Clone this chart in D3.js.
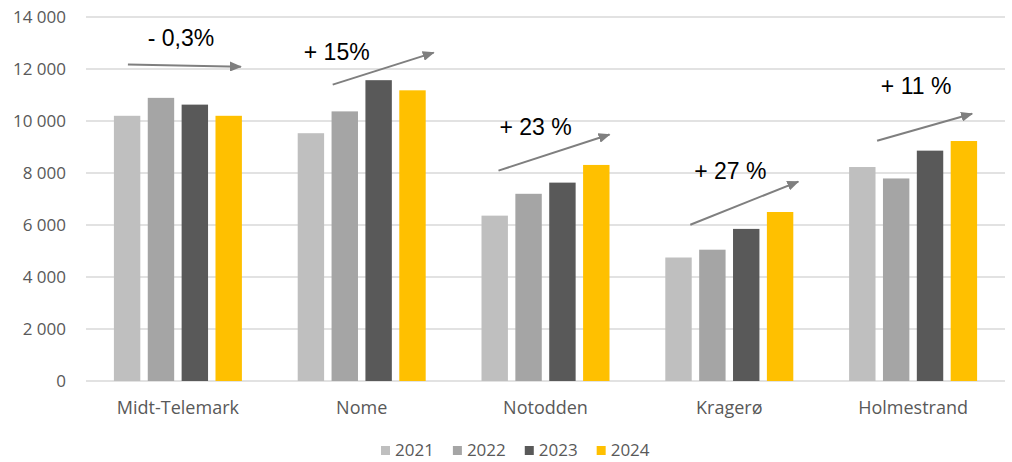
<!DOCTYPE html>
<html>
<head>
<meta charset="utf-8">
<script src="https://cdn.jsdelivr.net/npm/d3@7"></script>
<style>
  body { margin: 0; background: #fff; }
  text { font-family: "Open Sans", sans-serif; }
</style>
</head>
<body>
<svg id="chart" width="1012" height="462"></svg>
<script>
// data
const kommuner = ["Midt-Telemark", "Nome", "Notodden", "Kragerø", "Holmestrand"];
const years = ["2021", "2022", "2023", "2024"];
const v2021 = [10200, 9530, 6360, 4750, 8230];
const v2022 = [10890, 10370, 7200, 5050, 7790];
const v2023 = [10630, 11570, 7630, 5850, 8860];
const v2024 = [10200, 11180, 8310, 6500, 9230];
const yTicks = [0, 2000, 4000, 6000, 8000, 10000, 12000, 14000];
const colors = ["#bfbfbf", "#a5a5a5", "#595959", "#ffc000"];

// change annotations: label, arrow start/end (offset from group centre, value), label pos
const trendLabels = ["- 0,3%", "+ 15%", "+ 23 %", "+ 27 %", "+ 11 %"];
const arrowFrom = [[-50, 12170], [-29, 11400], [-47, 8090], [-39, 6010], [-36, 9240]];
const arrowTo = [[63, 12090], [72, 12630], [64, 9480], [69, 7670], [59, 10280]];
const labelAt = [[3, 12900], [-25, 12360], [-10, 9480], [1, 7780], [3, 11050]];

const series = [v2021, v2022, v2023, v2024];
const table = kommuner.map((k, i) => ({ k, vals: series.map(s => s[i]) }));

const svg = d3.select('#chart');
const margin = { left: 86, right: 7, top: 17, bottom: 81 };
const W = 1012, H = 462;

const x = d3.scaleBand().domain(kommuner).range([margin.left, W - margin.right]);
const x1 = d3.scaleBand().domain(years).range([0, 128]).paddingInner(0.22);
const y = d3.scaleLinear().domain([0, 14000]).range([H - margin.bottom, margin.top]);

// grid
svg.append('g').selectAll('line').data(yTicks).join('line')
  .attr('x1', margin.left).attr('x2', W - margin.right)
  .attr('y1', d => y(d)).attr('y2', d => y(d))
  .attr('stroke', '#d9d9d9').attr('stroke-width', 1.5);

// y labels
svg.append('g').selectAll('text').data(yTicks).join('text')
  .attr('x', 66).attr('y', d => y(d)).attr('dy', '0.35em')
  .attr('text-anchor', 'end').attr('fill', '#595959').attr('font-size', 17)
  .text(d => d3.format(',')(d).replace(/,/g, ' '));

// bars
const groups = svg.append('g').selectAll('g').data(table).join('g')
  .attr('transform', d => `translate(${x(d.k) + (x.bandwidth() - 128) / 2},0)`);
groups.selectAll('rect').data(d => d.vals.map((v, j) => ({ v, yr: years[j], j }))).join('rect')
  .attr('x', d => x1(d.yr)).attr('width', x1.bandwidth())
  .attr('y', d => y(d.v)).attr('height', d => y(0) - y(d.v))
  .attr('fill', d => colors[d.j]);

// category labels
svg.append('g').selectAll('text').data(kommuner).join('text')
  .attr('x', d => x(d) + x.bandwidth() / 2).attr('y', 414)
  .attr('text-anchor', 'middle').attr('fill', '#595959').attr('font-size', 18)
  .text(d => d);

// arrows
svg.append('defs').append('marker')
  .attr('id', 'arr').attr('viewBox', '0 0 12 10').attr('refX', 11).attr('refY', 5)
  .attr('markerWidth', 12).attr('markerHeight', 10).attr('markerUnits', 'userSpaceOnUse')
  .attr('orient', 'auto')
  .append('path').attr('d', 'M0,0 L12,5 L0,10 Z').attr('fill', '#7f7f7f');

const cx = i => x(kommuner[i]) + x.bandwidth() / 2;
svg.append('g').selectAll('line').data(kommuner).join('line')
  .attr('x1', (d, i) => cx(i) + arrowFrom[i][0]).attr('y1', (d, i) => y(arrowFrom[i][1]))
  .attr('x2', (d, i) => cx(i) + arrowTo[i][0]).attr('y2', (d, i) => y(arrowTo[i][1]))
  .attr('stroke', '#7f7f7f').attr('stroke-width', 2).attr('marker-end', 'url(#arr)');

svg.append('g').selectAll('text').data(trendLabels).join('text')
  .attr('x', (d, i) => cx(i) + labelAt[i][0]).attr('y', (d, i) => y(labelAt[i][1]))
  .attr('text-anchor', 'middle').attr('fill', '#000')
  .style('font-family', '"Liberation Sans", Arial, sans-serif').attr('font-size', 23)
  .text(d => d);

// legend
const leg = svg.append('g');
let lx = 381;
years.forEach((yr, j) => {
  leg.append('rect').attr('x', lx).attr('y', 446).attr('width', 9).attr('height', 9).attr('fill', colors[j]);
  const t = leg.append('text').attr('x', lx + 14).attr('y', 456)
    .attr('fill', '#595959').attr('font-size', 17).text(yr);
  lx += 14 + t.node().getComputedTextLength() + 19;
});
</script>
</body>
</html>
